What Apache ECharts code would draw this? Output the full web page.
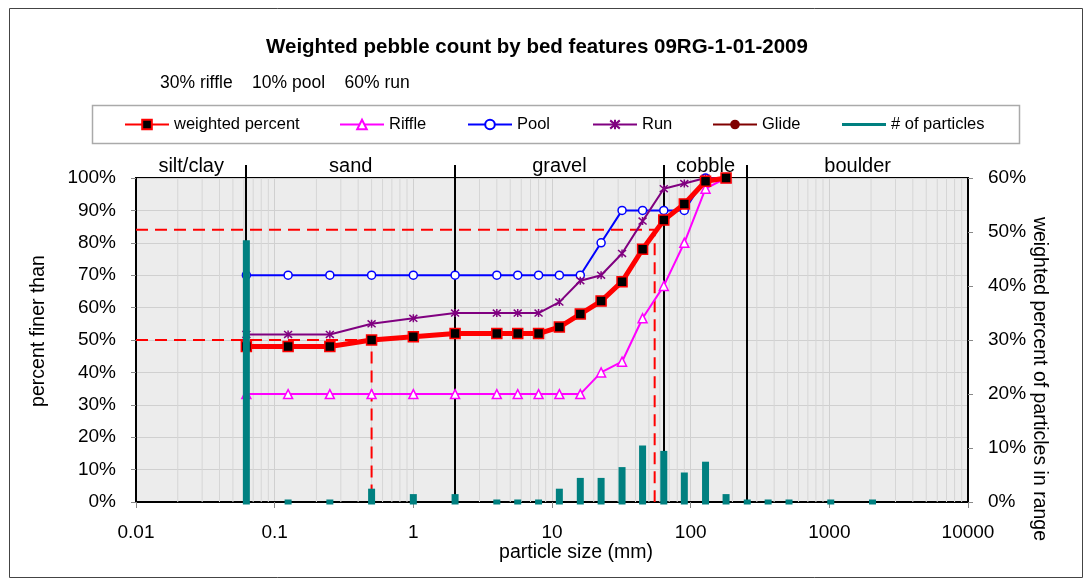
<!DOCTYPE html>
<html><head><meta charset="utf-8">
<script src="https://cdn.jsdelivr.net/npm/echarts@6/dist/echarts.min.js"></script>
<style>html,body{margin:0;padding:0;background:#fff}#c{width:1091px;height:582px}</style>
</head><body><div id="c"></div>
<script>
// ---- data ----
const sizes = [0.0625, 0.125, 0.25, 0.5, 1, 2, 4, 5.66, 8, 11.3, 16, 22.6, 32, 45, 64, 90, 128, 180];
const weighted = [48, 48, 48, 50, 51, 52, 52, 52, 52, 54, 58, 62, 68, 78, 87, 92, 99, 100];
const riffle = [33.3, 33.3, 33.3, 33.3, 33.3, 33.3, 33.3, 33.3, 33.3, 33.3, 33.3, 40, 43.3, 56.7, 66.7, 80, 96.7, 100];
const pool = [70, 70, 70, 70, 70, 70, 70, 70, 70, 70, 70, 80, 90, 90, 90, 90, 100, 100];
const run = [51.7, 51.7, 51.7, 55, 56.7, 58.3, 58.3, 58.3, 58.3, 61.7, 68.3, 70, 76.7, 86.7, 96.7, 98.3, 100, 100];
const glide = [];
const particleSizes = [0.0625, 0.125, 0.25, 0.5, 1, 2, 4, 5.66, 8, 11.3, 16, 22.6, 32, 45, 64, 90, 128, 180, 256, 362, 512, 1024, 2048];
const particlePct = [48, 0, 0, 2, 1, 1, 0, 0, 0, 2, 4, 4, 6, 10, 9, 5, 7, 1, 0, 0, 0, 0, 0];
const d50 = 0.5, d84 = 55;
const classEdges = [0.01, 0.0625, 2, 64, 256, 10000];
const classNames = ['silt/clay', 'sand', 'gravel', 'cobble', 'boulder'];
const xTickLabels = ['0.01', '0.1', '1', '10', '100', '1000', '10000'];
const leftTickFmt = v => v + '%';
const FONT = '"Liberation Sans", Arial, sans-serif';

// log-paper minor grid values (style only)
const minorGrid = [];
for (let d = -2; d <= 3; d++) for (let m = 2; m <= 9; m++) minorGrid.push(m * Math.pow(10, d));

const zip = (xs, ys) => xs.map((x, i) => [x, ys[i]]);
const chart = echarts.init(document.getElementById('c'), null, {renderer: 'canvas'});

const starPath = 'path://M0,-5L0,5M-4.3,-4.3L4.3,4.3M-4.3,4.3L4.3,-4.3';

const legendPos = [124, 339, 467, 592, 712, 842];
const legendNames = ['weighted percent', 'Riffle', 'Pool', 'Run', 'Glide', '# of particles'];
const legends = legendNames.map((n, i) => ({
  data: [i === 5 ? {name: n, icon: 'rect'} : n],
  left: legendPos[i], top: 116, padding: 0,
  itemWidth: 44, itemHeight: i === 5 ? 3 : 12,
  textStyle: {fontSize: 16.5, fontFamily: FONT, color: '#000'},
  selectedMode: false
}));

const option = {
  animation: false,
  backgroundColor: '#fff',
  title: [
    {text: 'Weighted pebble count by bed features 09RG-1-01-2009', left: 266, top: 37, padding: 0,
     textStyle: {fontSize: 20.5, fontWeight: 'bold', color: '#000', fontFamily: FONT}},
    {text: '30% riffle    10% pool    60% run', left: 160, top: 74, padding: 0,
     textStyle: {fontSize: 17.5, fontWeight: 'normal', color: '#000', fontFamily: FONT}}
  ],
  legend: legends,
  grid: {left: 136, right: 123, top: 178, bottom: 80, show: true, backgroundColor: '#ececec', borderColor: '#000', borderWidth: 2},
  xAxis: {
    type: 'log', logBase: 10, min: 0.01, max: 10000,
    axisLine: {show: true, lineStyle: {color: '#000', width: 2}},
    axisTick: {show: true, length: 6, lineStyle: {color: '#888'}},
    axisLabel: {margin: 21, fontSize: 19, color: '#000', fontFamily: FONT,
      formatter: v => xTickLabels[Math.round(Math.log10(v)) + 2]},
    splitLine: {show: true, lineStyle: {color: '#d0d0d0', width: 1}}
  },
  yAxis: [
    {type: 'value', min: 0, max: 100, interval: 10, position: 'left',
     axisLine: {show: true, lineStyle: {color: '#000', width: 2}},
     axisTick: {show: true, length: 5, lineStyle: {color: '#888'}},
     axisLabel: {margin: 20, fontSize: 19, color: '#000', fontFamily: FONT, formatter: leftTickFmt},
     splitLine: {show: true, lineStyle: {color: '#d0d0d0', width: 1}}},
    {type: 'value', min: 0, max: 60, interval: 10, position: 'right',
     axisLine: {show: true, lineStyle: {color: '#000', width: 2}},
     axisTick: {show: true, length: 5, lineStyle: {color: '#888'}},
     axisLabel: {margin: 20, fontSize: 19, color: '#000', fontFamily: FONT, formatter: leftTickFmt},
     splitLine: {show: false}}
  ],
  graphic: [
    {type: 'rect', silent: true, z: 0, shape: {x: 9.5, y: 8.5, width: 1073, height: 569},
     style: {fill: null, stroke: '#444', lineWidth: 1}},
    {type: 'rect', silent: true, z: 0, shape: {x: 92.5, y: 105.5, width: 927, height: 38},
     style: {fill: null, stroke: '#aaa', lineWidth: 1.5}},
    {type: 'text', silent: true, x: 39, y: 331, rotation: Math.PI / 2,
     style: {text: 'percent finer than', fontSize: 19.5, fontFamily: FONT, fill: '#000', align: 'center', verticalAlign: 'middle'}},
    {type: 'text', silent: true, x: 1039, y: 379, rotation: -Math.PI / 2,
     style: {text: 'weighted percent of particles in range', fontSize: 19.5, fontFamily: FONT, fill: '#000', align: 'center', verticalAlign: 'middle'}},
    {type: 'text', silent: true, x: 576, y: 553,
     style: {text: 'particle size (mm)', fontSize: 19.5, fontFamily: FONT, fill: '#000', align: 'center', verticalAlign: 'middle'}}
  ],
  series: [
    // minor log grid
    {type: 'custom', silent: true, z: 0.5, data: minorGrid.map(v => [v, 50]), encode: {x: 0, y: 1},
     renderItem: (params, api) => {
       const x = api.coord([api.value(0), 50])[0];
       const cs = params.coordSys;
       return {type: 'line', shape: {x1: x, y1: cs.y, x2: x, y2: cs.y + cs.height}, style: {stroke: '#d6d6d6', lineWidth: 1}};
     }},
    // class boundaries
    {type: 'custom', silent: true, z: 1, data: classEdges.slice(1, -1).map(v => [v, 50]), encode: {x: 0, y: 1},
     renderItem: (params, api) => {
       const x = Math.round(api.coord([api.value(0), 50])[0]);
       const cs = params.coordSys;
       return {type: 'line', shape: {x1: x, y1: cs.y - 13, x2: x, y2: cs.y + cs.height}, style: {stroke: '#000', lineWidth: 2}};
     }},
    // class labels
    {type: 'custom', silent: true, z: 1, data: classNames.map((n, i) => [Math.sqrt(classEdges[i] * classEdges[i + 1]), 100, i]),
     encode: {x: 0, y: 1},
     renderItem: (params, api) => {
       const p = api.coord([api.value(0), 100]);
       return {type: 'text', x: p[0], y: p[1] - 12,
         style: {text: classNames[api.value(2)], fontSize: 20, fontFamily: FONT, fill: '#000', align: 'center', verticalAlign: 'middle'}};
     }},
    // D50 / D84 dashed guides
    {type: 'line', silent: true, z: 2, symbol: 'none', data: [[0.01, 84], [d84, 84], [d84, 0]],
     lineStyle: {color: '#ff0000', width: 2, type: [12, 7]}},
    {type: 'line', silent: true, z: 2, symbol: 'none', data: [[0.01, 50], [d50, 50], [d50, 0]],
     lineStyle: {color: '#ff0000', width: 2, type: [12, 7]}},
    {name: 'Riffle', type: 'line', z: 3, data: zip(sizes, riffle), symbol: 'triangle', symbolSize: 9,
     lineStyle: {color: '#ff00ff', width: 2}, itemStyle: {color: '#fff', borderColor: '#ff00ff', borderWidth: 1.5}},
    {name: 'Pool', type: 'line', z: 3, data: zip(sizes, pool), symbol: 'circle', symbolSize: 8,
     lineStyle: {color: '#0000ff', width: 2}, itemStyle: {color: '#fff', borderColor: '#0000ff', borderWidth: 1.5}},
    {name: 'Run', type: 'line', z: 3, data: zip(sizes, run), symbol: starPath, symbolSize: 8,
     lineStyle: {color: '#800080', width: 2}, itemStyle: {color: '#800080', borderColor: '#800080', borderWidth: 1.5}},
    {name: 'Glide', type: 'line', z: 3, data: glide, symbol: 'circle', symbolSize: 8,
     lineStyle: {color: '#800000', width: 2}, itemStyle: {color: '#800000', borderColor: '#800000'}},
    {name: 'weighted percent', type: 'line', z: 4, data: zip(sizes, weighted), symbol: 'rect', symbolSize: 10,
     lineStyle: {color: '#ff0000', width: 5}, itemStyle: {color: '#000', borderColor: '#ff0000', borderWidth: 1.5}},
    {name: '# of particles', type: 'custom', z: 5, yAxisIndex: 1, data: zip(particleSizes, particlePct),
     encode: {x: 0, y: 1}, itemStyle: {color: '#008080'},
     renderItem: (params, api) => {
       const top = api.coord([api.value(0), api.value(1)]);
       const base = api.coord([api.value(0), 0]);
       const w = 7;
       return {type: 'rect', shape: {x: top[0] - w / 2, y: top[1] - 2.5, width: w, height: base[1] - top[1] + 5},
         style: {fill: '#008080'}};
     }}
  ]
};
chart.setOption(option);
</script></body></html>
